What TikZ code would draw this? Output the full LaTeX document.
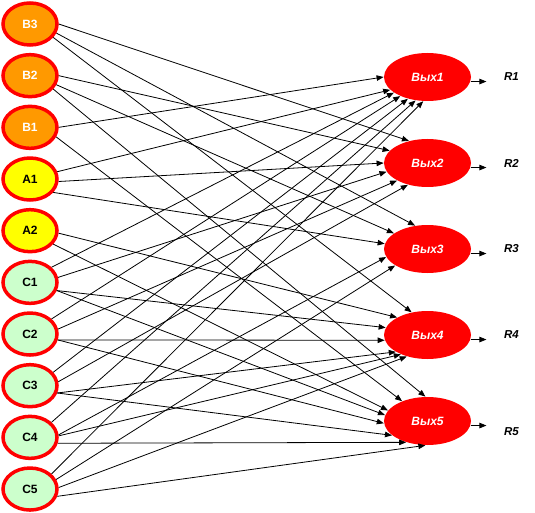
\documentclass[tikz,border=0pt]{standalone}
\usepackage{fontspec}
\setmainfont{Liberation Sans}
\usetikzlibrary{shapes.geometric}
\usetikzlibrary{arrows.meta}
\definecolor{bfill}{RGB}{255,153,0}
\definecolor{afill}{RGB}{255,255,0}
\definecolor{cfill}{RGB}{204,255,204}

\begin{document}
\begin{tikzpicture}[x=1pt, y=-1pt, >={Triangle[length=7pt,width=5.5pt]}, node distance=51.67pt]
	\tikzstyle{inp} = [draw=red, line width=3.5pt, ellipse, minimum width=54pt, minimum height=42pt, inner sep=0pt, font=\bfseries\fontsize{12}{14}\selectfont]
	\tikzstyle{outp} = [fill=red, ellipse, minimum width=87pt, minimum height=48pt, inner sep=0pt, text=white, font=\bfseries\itshape\fontsize{12}{14}\selectfont]
	\tikzstyle{res} = [font=\bfseries\itshape\fontsize{11.5}{13}\selectfont]
	\useasboundingbox (0,0) rectangle (535,513);
	\begin{scope}
	  \path[->, line width=0.8pt]
	  node[inp, fill=bfill, text=white] (b3) at (30,24) {B3}
	  node[inp, fill=bfill, text=white, below of=b3] (b2) {B2}
	  node[inp, fill=bfill, text=white, below of=b2] (b1) {B1}
	  node[inp, fill=afill, below of=b1] (a1) {A1}
	  node[inp, fill=afill, below of=a1] (a2) {A2}
	  node[inp, fill=cfill, below of=a2] (c1) {C1}
	  node[inp, fill=cfill, below of=c1] (c2) {C2}
	  node[inp, fill=cfill, below of=c2] (c3) {C3}
	  node[inp, fill=cfill, below of=c3] (c4) {C4}
	  node[inp, fill=cfill, below of=c4] (c5) {C5}
	  node[outp] (o1) at (427.5,77) {Вых1}
	  node[outp, below of=o1, node distance=86pt] (o2) {Вых2}
	  node[outp, below of=o2, node distance=86pt] (o3) {Вых3}
	  node[outp, below of=o3, node distance=86pt] (o4) {Вых4}
	  node[outp, below of=o4, node distance=86pt] (o5) {Вых5}
	  node[res, right of=o1, node distance=84pt] (r1) {R1}
	  node[res, right of=o2, node distance=84pt] (r2) {R2}
	  node[res, right of=o3, node distance=84pt] (r3) {R3}
	  node[res, right of=o4, node distance=84pt] (r4) {R4}
	  node[res, right of=o5, node distance=84pt, yshift=-11pt] (r5) {R5}
	  (b3.0) edge (o2.130)
	  (b3.-19) edge (o3.118)
	  (b3.-30) edge (o4.125)
	  (b2.0) edge (o2.162)
	  (b2.-19) edge (o3.155)
	  (b2.-30) edge (o5.95)
	  (b1.0) edge (o1.180)
	  (b1.-20) edge (o5.142)
	  (a1.15) edge (o1.199)
	  (a1.-5) edge (o2.180)
	  (a1.-30) edge (o3.173)
	  (a2.-5) edge (o4.150)
	  (a2.-30) edge (o5.165)
	  (c1.35) edge (o1.205)
	  (c1.10) edge (o2.192)
	  (c1.-17) edge (o4.170)
	  (c1.-17) edge (o5.172)
	  (c2.35) edge (o1.215)
	  (c2.10) edge (o2.210)
	  (c2.-12) edge (o4.187)
	  (c2.-12) edge (o5.183)
	  (c3.30) edge (o1.228)
	  (c3.8) edge (o2.228)
	  (c3.-15) edge (o4.208)
	  (c3.-15) edge (o5.202)
	  (c4.35) edge (o1.243)
	  (c4.5) edge (o3.191)
	  (c4.3) edge (o4.216)
	  (c4.-12) edge (o5.225)
	  (c5.35) edge (o1.260)
	  (c5.20) edge (o3.207)
	  (c5.3) edge (o4.226)
	  (c5.-15) edge (o5.265)
	  (o1.-6) edge[shorten >=14pt] (o1.-6 -| r1.west)
	  (o2.-6) edge[shorten >=14pt] (o2.-6 -| r2.west)
	  (o3.-6) edge[shorten >=14pt] (o3.-6 -| r3.west)
	  (o4.-6) edge[shorten >=14pt] (o4.-6 -| r4.west)
	  (o5.-6) edge[shorten >=14pt] (o5.-6 -| r5.west)
	  ;
	\end{scope}
\end{tikzpicture}
\end{document}
